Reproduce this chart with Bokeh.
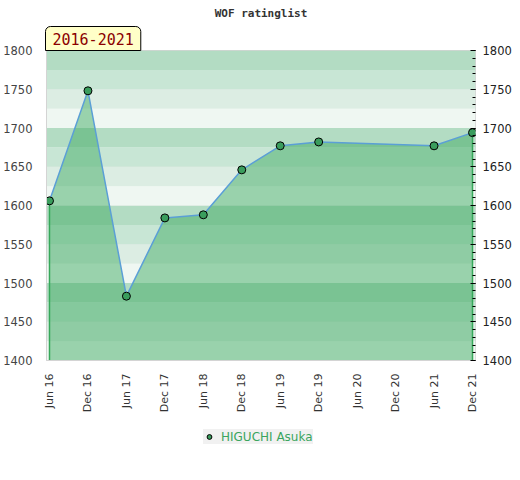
from bokeh.plotting import figure
from bokeh.layouts import column
from bokeh.models import (Range1d, FixedTicker, SingleIntervalTicker, LinearAxis,
                          Title, Legend, LegendItem, ColumnDataSource)
from bokeh.embed import file_html
from bokeh.resources import INLINE

# ---- data ----
period_labels = ["Jun 16", "Dec 16", "Jun 17", "Dec 17", "Jun 18", "Dec 18",
                 "Jun 19", "Dec 19", "Jun 20", "Dec 20", "Jun 21", "Dec 21"]
point_periods = ["Jun 16", "Dec 16", "Jun 17", "Dec 17", "Jun 18", "Dec 18",
                 "Jun 19", "Dec 19", "Jun 21", "Dec 21"]
ratings = [1606, 1748, 1483, 1584, 1588, 1646, 1677, 1682, 1677, 1694]
player = "HIGUCHI Asuka"
title_text = "WOF ratinglist"
period_text = "2016-2021"
y_min, y_max = 1400, 1800
band_step = 25

# ---- derived ----
xs = [period_labels.index(p) for p in point_periods]
n = len(period_labels)
x0, x1 = -0.078, (n - 1) + 0.078

p = figure(frame_width=429, frame_height=310, output_backend="svg", toolbar_location=None,
           x_range=Range1d(x0, x1), y_range=Range1d(y_min, y_max),
           min_border_left=37, min_border_right=38, min_border_top=0,
           min_border_bottom=0, background_fill_color="white",
           border_fill_color="white", outline_line_color="#d4d4d4")

p.title.text = title_text
p.title.align = "center"
p.title.text_font = "DejaVu Sans Mono"
p.title.text_font_size = "11px"
p.title.text_font_style = "bold"
p.title.text_color = "#333333"
p.title.offset = 0
p.title.standoff = 9

# period label as a left-aligned title box just above the frame
pt = Title(text=period_text, align="left", text_font="DejaVu Sans Mono",
           text_font_size="15px", text_font_style="normal", text_color="#8b0000",
           background_fill_color="#ffffc8", border_line_color="black",
           border_line_width=1, padding=(7, 6), border_radius=(5, 5, 0, 0),
           offset=-1, standoff=0)
p.add_layout(pt, "above")

# background bands
band_colors = ["#eff7f2", "#dcede3", "#c8e6d5", "#b3dcc3"]
bottoms = list(range(y_min, y_max, band_step))
cols = [band_colors[((b - y_min) // band_step) % 4] for b in bottoms]
bsrc = ColumnDataSource(dict(bottom=bottoms, top=[b + band_step for b in bottoms], color=cols))
p.quad(left=x0, right=x1, bottom="bottom", top="top", fill_color="color",
       line_color=None, source=bsrc)

# area
p.varea(x=xs, y1=[y_min] * len(xs), y2=ratings, fill_color="#39a85e", fill_alpha=0.47)
p.segment(x0=[xs[0], xs[-1]], y0=[ratings[0], ratings[-1]], x1=[xs[0], xs[-1]],
          y1=[y_min, y_min], line_color="#36a85a", line_width=1.5)
p.line(xs, ratings, line_color="#5b9fd6", line_width=1.5)
marker_style = dict(size=8, fill_color="#3a9d5d", line_color="black", line_width=1)
p.scatter(xs, ratings, **marker_style)

# grid
p.xgrid.visible = False
p.ygrid.ticker = SingleIntervalTicker(interval=50)
p.ygrid.grid_line_color = "#d8d8d8"
p.ygrid.grid_line_alpha = 0.6

# left axis
ya = p.yaxis[0]
ya.ticker = SingleIntervalTicker(interval=50)
ya.major_tick_line_color = None
ya.minor_tick_line_color = None
ya.axis_line_color = "#d4d4d4"
ya.major_label_text_font = "DejaVu Sans"
ya.major_label_text_font_size = "11.5px"
ya.major_label_text_color = "#444444"
ya.major_label_standoff = 8

# right axis
ra = LinearAxis(ticker=SingleIntervalTicker(interval=50, num_minor_ticks=5))
ra.axis_line_color = None
ra.major_tick_in = 5
ra.major_tick_out = 0
ra.minor_tick_in = 3
ra.minor_tick_out = 0
ra.major_tick_line_color = "black"
ra.minor_tick_line_color = "black"
ra.major_label_text_font = "DejaVu Sans"
ra.major_label_text_font_size = "11.5px"
ra.major_label_text_color = "#222222"
ra.major_label_standoff = 7
p.add_layout(ra, "right")

# x axis
xa = p.xaxis[0]
xa.ticker = FixedTicker(ticks=list(range(n)))
xa.major_label_overrides = {i: lab for i, lab in enumerate(period_labels)}
xa.major_label_orientation = 1.5708
xa.major_tick_line_color = None
xa.minor_tick_line_color = None
xa.axis_line_color = "#d4d4d4"
xa.major_label_text_font = "DejaVu Sans"
xa.major_label_text_font_size = "11px"
xa.major_label_text_color = "#333333"
xa.major_label_standoff = 7

# legend strip below the chart
p2 = figure(width=504, height=48, output_backend="svg", toolbar_location=None,
            x_range=Range1d(0, 1), y_range=Range1d(0, 1), min_border=0,
            x_axis_location=None, y_axis_location=None,
            outline_line_color=None, background_fill_color="white",
            border_fill_color="white")
p2.grid.visible = False
# legend-only renderer: its single point lies outside the visible range
lr = p2.scatter(x=[-10], y=[-10], **marker_style)
leg = Legend(items=[LegendItem(label=player, renderers=[lr])], orientation="horizontal",
             location=(157, 19), background_fill_color="#f0f0f0", border_line_color=None,
             label_text_color="#3aa55e", label_text_font="DejaVu Sans",
             label_text_font_size="12px", margin=0, padding=3, spacing=0,
             glyph_width=12, glyph_height=15, label_height=15, label_standoff=6)
p2.add_layout(leg)

open("out.html", "w").write(file_html(column(p, p2, spacing=0), INLINE))
